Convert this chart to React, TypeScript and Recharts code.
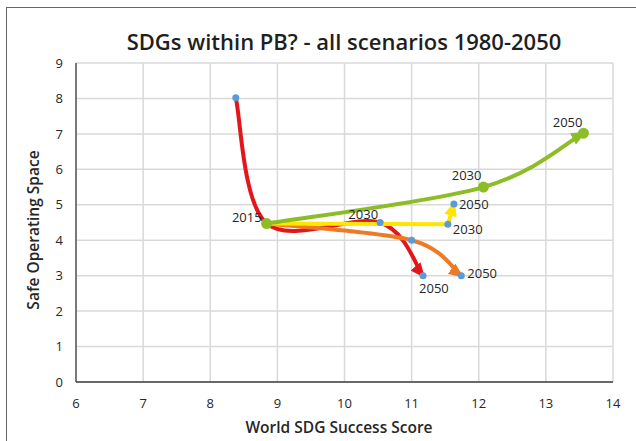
import { CartesianGrid, ComposedChart, Line, Scatter, XAxis, YAxis } from 'recharts';

type Pt = { x: number; y: number };

const X_TICKS = [6, 7, 8, 9, 10, 11, 12, 13, 14];
const Y_TICKS = [0, 1, 2, 3, 4, 5, 6, 7, 8, 9];

const RED: Pt[] = [
  { x: 8.38, y: 8.02 },
  { x: 8.84, y: 4.47 },
  { x: 10.53, y: 4.5 },
  { x: 11.17, y: 3.0 },
];
const ORANGE: Pt[] = [
  { x: 8.84, y: 4.47 },
  { x: 11.0, y: 4.0 },
  { x: 11.74, y: 3.0 },
];
const YELLOW: Pt[] = [
  { x: 8.84, y: 4.47 },
  { x: 11.54, y: 4.45 },
  { x: 11.63, y: 5.02 },
];
const GREEN: Pt[] = [
  { x: 8.84, y: 4.47 },
  { x: 12.07, y: 5.5 },
  { x: 13.56, y: 7.02 },
];
const BLUE_DOTS: Pt[] = [
  { x: 8.38, y: 8.02 },
  { x: 10.53, y: 4.5 },
  { x: 11.0, y: 4.0 },
  { x: 11.17, y: 3.0 },
  { x: 11.74, y: 3.0 },
  { x: 11.54, y: 4.45 },
  { x: 11.63, y: 5.02 },
];
const YEAR_LABELS = [
  { x: 8.84, y: 4.47, text: '2015' },
  { x: 10.53, y: 4.5, text: '2030' },
  { x: 12.07, y: 5.5, text: '2030' },
  { x: 13.56, y: 7.02, text: '2050' },
  { x: 11.63, y: 5.02, text: '2050' },
  { x: 11.54, y: 4.45, text: '2030' },
  { x: 11.17, y: 3.0, text: '2050' },
  { x: 11.74, y: 3.0, text: '2050' },
];
// pixel nudges for the year labels, same order as YEAR_LABELS
const LABEL_NUDGE: [number, number, 'start' | 'end'][] = [
  [-5, -7, 'end'],
  [-2, -9, 'end'],
  [-2, -12, 'end'],
  [-1, -11, 'end'],
  [5, 0, 'start'],
  [5, 5, 'start'],
  [-4, 12, 'start'],
  [6, -3, 'start'],
];

const FONT = '"Open Sans", "Noto Sans", sans-serif';
const C = {
  red: '#E3161B',
  orange: '#EE7A22',
  yellow: '#FFE500',
  green: '#8CBD26',
  blue: '#5B9BD5',
};

// Excel-style smoothed line (Catmull-Rom as cubic beziers)
const smooth = (ctx: any) => {
  let pts: [number, number][] = [];
  return {
    areaStart() {},
    areaEnd() {},
    lineStart() {
      pts = [];
    },
    lineEnd() {
      const n = pts.length;
      if (!n) return;
      ctx.moveTo(pts[0][0], pts[0][1]);
      for (let i = 0; i < n - 1; i++) {
        const a = pts[Math.max(i - 1, 0)];
        const b = pts[i];
        const c = pts[i + 1];
        const d = pts[Math.min(i + 2, n - 1)];
        ctx.bezierCurveTo(
          b[0] + (c[0] - a[0]) / 6,
          b[1] + (c[1] - a[1]) / 6,
          c[0] - (d[0] - b[0]) / 6,
          c[1] - (d[1] - b[1]) / 6,
          c[0],
          c[1],
        );
      }
    },
    point(x: number, y: number) {
      pts.push([+x, +y]);
    },
  };
};

const arrow = (id: string, color: string) => (
  <marker
    id={id}
    markerUnits="userSpaceOnUse"
    markerWidth={15}
    markerHeight={13}
    viewBox="0 0 15 13"
    refX={12}
    refY={6.5}
    orient="auto"
  >
    <path d="M0,0 L15,6.5 L0,13 z" fill={color} />
  </marker>
);

const YearLabel = (p: any) => {
  const i = YEAR_LABELS.findIndex(
    (l) => l.x === p.payload?.x && l.y === p.payload?.y && l.text === p.payload?.text,
  );
  if (i < 0) return <g />;
  const [dx, dy, anchor] = LABEL_NUDGE[i];
  return (
    <text
      x={p.cx + dx}
      y={p.cy + dy}
      textAnchor={anchor}
      dominantBaseline="central"
      fontSize={13}
      fontFamily={FONT}
      fill="#262626"
    >
      {YEAR_LABELS[i].text}
    </text>
  );
};

export default function App() {
  return (
    <div
      style={{
        position: 'absolute',
        left: 0,
        top: 0,
        width: 636,
        height: 441,
        overflow: 'hidden',
        background: '#fff',
        fontFamily: FONT,
      }}
    >
      <div
        style={{
          position: 'absolute',
          left: 6,
          top: 7,
          width: 700,
          height: 500,
          border: '1.5px solid #666',
        }}
      />
      <div
        style={{
          position: 'absolute',
          left: 0,
          width: 688,
          top: 24,
          textAlign: 'center',
          fontSize: 22,
          fontWeight: 600,
          color: '#1f1f1f',
          lineHeight: '34px',
        }}
      >
        SDGs within PB? - all scenarios 1980-2050
      </div>
      <div
        style={{
          position: 'absolute',
          left: 0,
          width: 678,
          top: 416,
          textAlign: 'center',
          fontSize: 15.5,
          fontWeight: 600,
          color: '#262626',
          lineHeight: '22px',
        }}
      >
        World SDG Success Score
      </div>
      <div
        style={{
          position: 'absolute',
          left: 33,
          top: 230,
          transform: 'translate(-50%, -50%) rotate(-90deg)',
          fontSize: 15.5,
          fontWeight: 600,
          color: '#262626',
          whiteSpace: 'nowrap',
        }}
      >
        Safe Operating Space
      </div>
      <div style={{ position: 'absolute', left: 0, top: 0 }}>
        <ComposedChart
          width={636}
          height={441}
          margin={{ top: 63, right: 23, left: 36, bottom: 29 }}
        >
          <defs>
            {arrow('arr-red', C.red)}
            {arrow('arr-orange', C.orange)}
            {arrow('arr-yellow', C.yellow)}
            {arrow('arr-green', C.green)}
          </defs>
          <CartesianGrid stroke="#d9d9d9" strokeWidth={1.5} />
          <XAxis
            type="number"
            dataKey="x"
            domain={[6, 14]}
            ticks={X_TICKS}
            interval={0}
            allowDataOverflow
            height={30}
            tickLine={false}
            tickSize={0}
            tickMargin={17}
            axisLine={{ stroke: '#404040', strokeWidth: 1.3 }}
            tick={{ fill: '#262626', fontSize: 13, fontFamily: FONT }}
          />
          <YAxis
            type="number"
            dataKey="y"
            domain={[0, 9]}
            ticks={Y_TICKS}
            interval={0}
            allowDataOverflow
            width={40}
            tickLine={false}
            tickSize={0}
            tickMargin={13}
            axisLine={{ stroke: '#404040', strokeWidth: 1.3 }}
            tick={{ fill: '#262626', fontSize: 13, fontFamily: FONT }}
          />
          <Line
            data={RED}
            dataKey="y"
            type={smooth as any}
            stroke={C.red}
            strokeWidth={4}
            dot={false}
            activeDot={false}
            markerEnd="url(#arr-red)"
            isAnimationActive={false}
          />
          <Line
            data={ORANGE}
            dataKey="y"
            type={smooth as any}
            stroke={C.orange}
            strokeWidth={4}
            dot={false}
            activeDot={false}
            markerEnd="url(#arr-orange)"
            isAnimationActive={false}
          />
          <Line
            data={YELLOW}
            dataKey="y"
            type="linear"
            stroke={C.yellow}
            strokeWidth={4}
            dot={false}
            activeDot={false}
            markerEnd="url(#arr-yellow)"
            isAnimationActive={false}
          />
          <Line
            data={GREEN}
            dataKey="y"
            type={smooth as any}
            stroke={C.green}
            strokeWidth={4}
            dot={false}
            activeDot={false}
            markerEnd="url(#arr-green)"
            isAnimationActive={false}
          />
          <Scatter
            data={BLUE_DOTS}
            fill={C.blue}
            shape={(p: any) => <circle cx={p.cx} cy={p.cy} r={3.5} fill={C.blue} />}
            isAnimationActive={false}
          />
          <Scatter
            data={GREEN}
            fill={C.green}
            shape={(p: any) => <circle cx={p.cx} cy={p.cy} r={5.5} fill={C.green} />}
            isAnimationActive={false}
          />
          <Scatter data={YEAR_LABELS} shape={YearLabel} isAnimationActive={false} />
        </ComposedChart>
      </div>
    </div>
  );
}
